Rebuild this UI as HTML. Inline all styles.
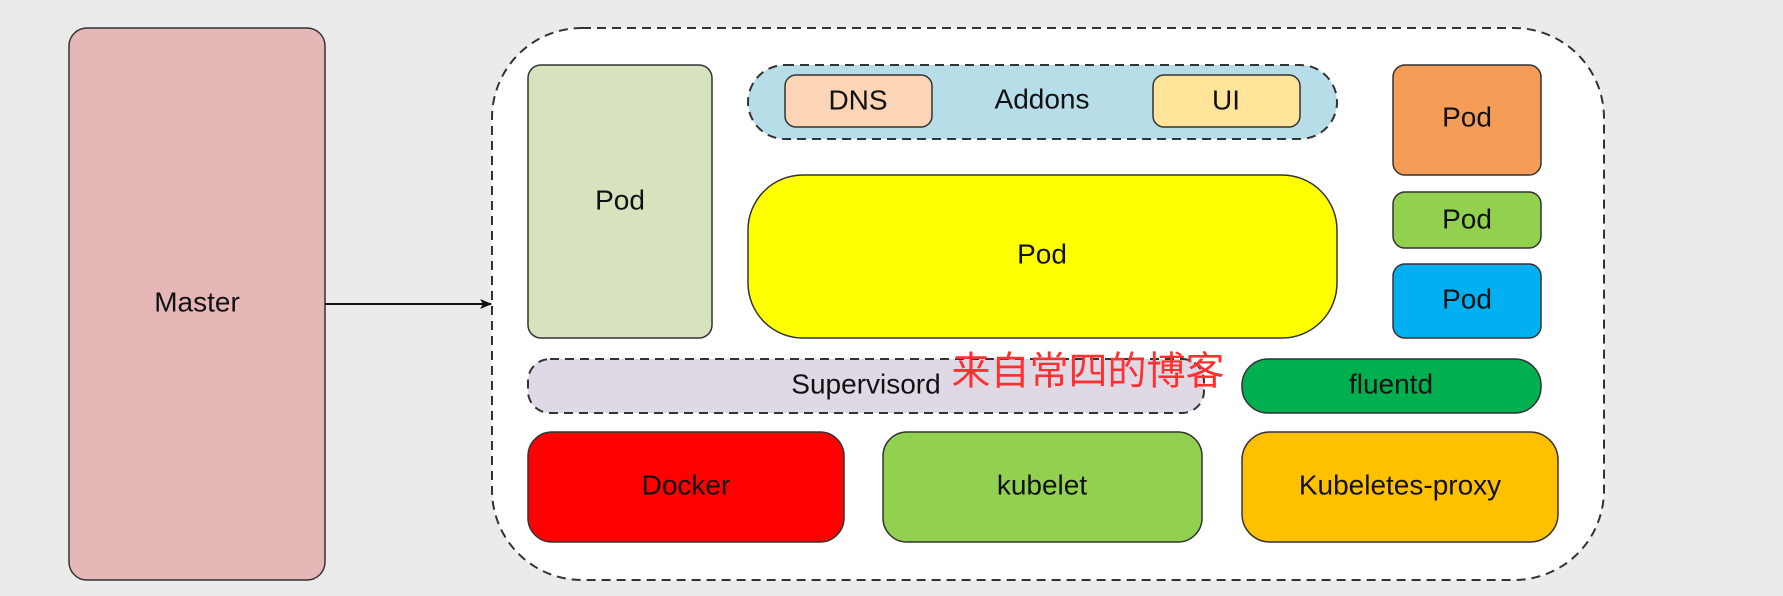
<!DOCTYPE html>
<html><head><meta charset="utf-8"><style>
html,body{margin:0;padding:0;background:#ebebeb;}
svg{display:block;}
text{font-family:"Liberation Sans","Noto Sans CJK SC",sans-serif;font-size:28px;fill:#111;text-anchor:middle;dominant-baseline:central;}
</style></head><body>
<svg width="1783" height="596" viewBox="0 0 1783 596" xmlns="http://www.w3.org/2000/svg">
<rect x="0" y="0" width="1783" height="596" fill="#ebebeb"/>
<defs><marker id="a" markerWidth="12" markerHeight="10" refX="11" refY="5" orient="auto" markerUnits="userSpaceOnUse"><path d="M0,0 L12,5 L0,10 L3,5 Z" fill="#111"/></marker></defs>
<!-- Master -->
<rect x="69" y="28" width="256" height="552" rx="18" fill="#e5b8b7" stroke="#333" stroke-width="1.5"/>
<text x="197" y="302">Master</text>
<line x1="325" y1="304" x2="491" y2="304" stroke="#111" stroke-width="2" marker-end="url(#a)"/>
<!-- Node -->
<rect x="492" y="28" width="1112" height="552" rx="90" fill="#fff" stroke="#333" stroke-width="2" stroke-dasharray="9,6"/>
<rect x="528" y="65" width="184" height="273" rx="13" fill="#d7e3bf" stroke="#333" stroke-width="1.5"/>
<text x="620" y="200">Pod</text>
<rect x="748" y="65" width="589" height="74" rx="37" fill="#b7dde8" stroke="#333" stroke-width="2" stroke-dasharray="9,6"/>
<rect x="785" y="75" width="147" height="52" rx="11" fill="#fbd5b5" stroke="#333" stroke-width="1.5"/>
<text x="858" y="100">DNS</text>
<text x="1042" y="99">Addons</text>
<rect x="1153" y="75" width="147" height="52" rx="11" fill="#ffe499" stroke="#333" stroke-width="1.5"/>
<text x="1226" y="100">UI</text>
<rect x="748" y="175" width="589" height="163" rx="55" fill="#ffff00" stroke="#333" stroke-width="1.5"/>
<text x="1042" y="254">Pod</text>
<rect x="1393" y="65" width="148" height="110" rx="12" fill="#f59d56" stroke="#333" stroke-width="1.5"/>
<text x="1467" y="117">Pod</text>
<rect x="1393" y="192" width="148" height="56" rx="12" fill="#92d050" stroke="#333" stroke-width="1.5"/>
<text x="1467" y="219">Pod</text>
<rect x="1393" y="264" width="148" height="74" rx="12" fill="#00b0f0" stroke="#333" stroke-width="1.5"/>
<text x="1467" y="299">Pod</text>
<rect x="528" y="359" width="676" height="54" rx="22" fill="#dfd8e5" stroke="#333" stroke-width="2" stroke-dasharray="9,6"/>
<text x="866" y="384">Supervisord</text>
<rect x="1242" y="359" width="299" height="54" rx="26" fill="#00b050" stroke="#333" stroke-width="1.5"/>
<text x="1391" y="384">fluentd</text>
<rect x="528" y="432" width="316" height="110" rx="24" fill="#ff0000" stroke="#333" stroke-width="1.5"/>
<text x="686" y="485">Docker</text>
<rect x="883" y="432" width="319" height="110" rx="24" fill="#92d050" stroke="#333" stroke-width="1.5"/>
<text x="1042" y="485">kubelet</text>
<rect x="1242" y="432" width="316" height="110" rx="28" fill="#ffc000" stroke="#333" stroke-width="1.5"/>
<text x="1400" y="485">Kubeletes-proxy</text>
<text x="1088" y="372" style="font-size:39px;fill:#ff3030;">来自常四的博客</text>
</svg>
</body></html>
